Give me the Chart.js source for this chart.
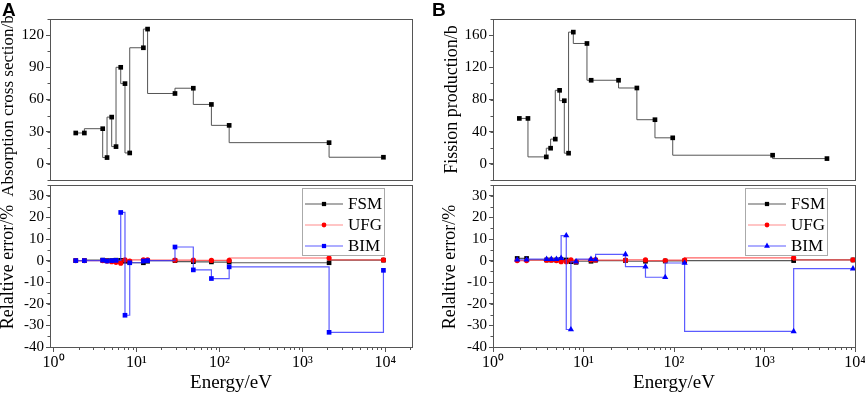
<!DOCTYPE html>
<html>
<head>
<meta charset="utf-8">
<script src="https://cdn.jsdelivr.net/npm/chart.js@4.4.0/dist/chart.umd.min.js"></script>
<style>
    body { margin: 0; background: #fff; width: 865px; height: 396px; position: relative; overflow: hidden; }
    canvas { position: absolute; }
    .tag { position: absolute; font: bold 19px "Liberation Sans", Arial, sans-serif; line-height: 19px; }
</style>
</head>
<body>
<canvas id="aTop" width="430" height="215" style="left:0;top:0"></canvas>
<canvas id="aErr" width="430" height="215" style="left:0;top:181px"></canvas>
<canvas id="bTop" width="432" height="215" style="left:433px;top:0"></canvas>
<canvas id="bErr" width="432" height="215" style="left:433px;top:181px"></canvas>
<div class="tag" style="left:2px;top:0px">A</div>
<div class="tag" style="left:432px;top:0px">B</div>
<script>
// energy grid shared by all four plots (eV)
const energy = [1.85, 2.35, 3.91, 4.41, 5.02, 5.66, 6.45, 7.26, 8.28, 12.1, 13.6, 29.1, 48.4, 80, 131, 2100, 9500];

// panel A
const absorption = [28.8, 28.8, 32.8, 5.9, 43.6, 16.1, 90, 74.8, 10.2, 108.2, 125.6, 65.6, 70.5, 55.4, 35.9, 19.8, 6.2];
const errFsmA = [0, 0, 0.2, 0, 0, 0.2, 0.1, -0.3, -0.8, -1.0, -0.3, 0, -0.5, -0.6, -0.7, -1.0, 0.2];
const errUfgA = [0, 0, 0, -0.2, -0.5, -0.8, -1.2, 0.3, -0.2, 0.3, 0.4, 0.2, 0.2, 0.1, 0.1, 1.2, 0.3];
const errBimA = [0, 0, 0.2, -0.2, 0, 0.1, 22.3, -25.3, -1.0, -0.2, 0, 6.3, -4.3, -8.3, -2.9, -33.2, -4.5];

// panel B
const fission = [56.5, 56.5, 8.7, 19.5, 30.8, 91.4, 78.5, 13.3, 163.7, 149.6, 103.9, 103.9, 94.3, 54.9, 32.4, 10.8, 6.6];
const errFsmB = [1.0, 1.0, 0.3, 0.3, 0.3, 0.6, 0.3, -0.5, -0.8, -0.3, 0.2, 0, -0.3, -0.2, -0.1, 0, 0.3];
const errUfgB = [0, 0, 0.2, 0.2, 0, -0.5, -0.5, 0.3, -0.5, 0.3, 0.3, 0.2, 0.3, 0, 0.2, 1.3, 0.3];
const errBimB = [0.4, 0.4, 0.7, 0.7, 0.7, 1.1, 11.6, -31.9, -0.5, 0.7, 0.5, 2.9, -2.8, -7.7, -1.1, -32.8, -3.7];

// tick labels
const decades = [1, 10, 100, 1000, 10000];
const absTicks = [0, 30, 60, 90, 120];
const fisTicks = [0, 40, 80, 120, 160];
const errTicks = [-40, -30, -20, -10, 0, 10, 20, 30];
const sup = ['\u2070', '\u00b9', '\u00b2', '\u00b3', '\u2074'];

const serif = '"Liberation Serif", "Times New Roman", serif';
const frameColor = '#555';
Chart.defaults.font.family = serif;
Chart.defaults.color = '#000';

const pts = ys => energy.map((e, i) => ({ x: e, y: ys[i] }));

// box around every plot area
const frame = {
    id: 'frame',
    afterDatasetsDraw(chart) {
        const { ctx, chartArea: a } = chart;
        ctx.save();
        ctx.strokeStyle = frameColor;
        ctx.lineWidth = 1;
        ctx.strokeRect(Math.round(a.left) + 0.5, Math.round(a.top) + 0.5,
            Math.round(a.right - a.left), Math.round(a.bottom - a.top));
        ctx.restore();
    }
};

// small ticks between the labelled ones
const minorTicks = {
    id: 'minorTicks',
    afterDraw(chart, args, opts) {
        const { ctx, chartArea: a, scales } = chart;
        ctx.save();
        ctx.strokeStyle = frameColor;
        ctx.lineWidth = 1;
        ctx.beginPath();
        if (opts.yStep) {
            const ys = scales.y;
            for (let v = Math.ceil(ys.min / opts.yStep) * opts.yStep; v <= ys.max; v += opts.yStep) {
                const p = Math.round(ys.getPixelForValue(v)) + 0.5;
                ctx.moveTo(a.left, p);
                ctx.lineTo(a.left - 2.5, p);
            }
        }
        if (opts.logX) {
            const xs = scales.x;
            for (let d = -1; d <= 4; d++) {
                for (let k = 2; k <= 9; k++) {
                    const v = k * Math.pow(10, d);
                    if (v < xs.min || v > xs.max) continue;
                    const p = Math.round(xs.getPixelForValue(v)) + 0.5;
                    ctx.moveTo(p, a.bottom);
                    ctx.lineTo(p, a.bottom + 3);
                }
            }
        }
        ctx.stroke();
        ctx.restore();
    }
};

// rotated y-axis title, baseline at opts.x, centred on the plot (plus shift)
const sideTitle = {
    id: 'sideTitle',
    afterDraw(chart, args, opts) {
        if (!opts.text) return;
        const { ctx, chartArea: a } = chart;
        ctx.save();
        ctx.translate(opts.x, (a.top + a.bottom) / 2 + (opts.shift || 0));
        ctx.rotate(-Math.PI / 2);
        ctx.font = opts.size + 'px ' + serif;
        ctx.fillStyle = '#000';
        ctx.textAlign = 'center';
        ctx.textBaseline = 'alphabetic';
        ctx.fillText(opts.text, 0, 0);
        ctx.restore();
    }
};

const marker = (ctx, style, x, y, r, color) => {
    ctx.fillStyle = color;
    ctx.beginPath();
    if (style === 'circle') {
        ctx.arc(x, y, r, 0, Math.PI * 2);
    } else if (style === 'triangle') {
        ctx.moveTo(x, y - r);
        ctx.lineTo(x + 0.866 * r, y + 0.5 * r);
        ctx.lineTo(x - 0.866 * r, y + 0.5 * r);
        ctx.closePath();
    } else {
        const s = r * Math.SQRT1_2;
        ctx.rect(x - s, y - s, 2 * s, 2 * s);
    }
    ctx.fill();
};

// legend with a border, line + marker per entry
const legendBox = {
    id: 'legendBox',
    afterDraw(chart, args, opts) {
        if (!opts.items) return;
        const { ctx, chartArea: a } = chart;
        const left = Math.round(a.right) - 110, top = Math.round(a.top) + 3;
        ctx.save();
        ctx.strokeStyle = '#aaa';
        ctx.lineWidth = 1;
        ctx.strokeRect(left + 0.5, top + 0.5, 82, 67);
        ctx.font = '17px ' + serif;
        ctx.textBaseline = 'middle';
        opts.items.forEach((it, i) => {
            const y = top + 16 + i * 21;
            ctx.strokeStyle = it.line;
            ctx.lineWidth = 1.2;
            ctx.beginPath();
            ctx.moveTo(left + 3, y);
            ctx.lineTo(left + 41, y);
            ctx.stroke();
            marker(ctx, it.style, left + 22, y, it.radius, it.color);
            ctx.fillStyle = '#000';
            ctx.fillText(it.label, left + 46, y + 1);
        });
        ctx.restore();
    }
};

Chart.register(frame, minorTicks, sideTitle, legendBox);

const yAxis = (min, max, majors, width) => ({
    min, max,
    afterFit: s => { s.width = width; s.paddingTop = 0; s.paddingBottom = 0; },
    afterBuildTicks: s => { s.ticks = majors.map(v => ({ value: v })); },
    border: { display: false },
    grid: { drawOnChartArea: false, tickLength: 4, tickColor: frameColor },
    ticks: { font: { size: 15 }, padding: 2, autoSkip: false }
});

const xAxis = (min, max) => ({
    type: 'logarithmic', min, max,
    afterFit: s => { s.height = 49; s.paddingLeft = 0; s.paddingRight = 0; },
    afterBuildTicks: s => { s.ticks = decades.map(v => ({ value: v })); },
    border: { display: false },
    grid: { drawOnChartArea: false, tickLength: 5, tickColor: frameColor },
    ticks: {
        font: { size: 16 }, padding: 1, autoSkip: false, maxRotation: 0,
        callback: v => '10' + sup[Math.round(Math.log10(v))]
    },
    title: { display: true, text: 'Energy/eV', font: { size: 19, lineHeight: 1.2 }, padding: { top: 0, bottom: 2 } }
});

const baseOptions = (scales, padding, plugins) => ({
    responsive: false,
    animation: false,
    events: [],
    layout: { padding },
    scales,
    plugins: Object.assign({ legend: { display: false }, tooltip: { enabled: false } }, plugins)
});

const topSet = values => ({
    data: pts(values),
    stepped: 'after',
    borderColor: '#555',
    borderWidth: 1,
    pointStyle: 'rect',
    pointRadius: 3.3,
    pointBorderWidth: 0,
    pointBackgroundColor: '#000'
});

const errSet = (values, line, color, style, radius, stepped) => ({
    data: pts(values),
    stepped,
    borderColor: line,
    borderWidth: 1.2,
    pointStyle: style,
    pointRadius: radius,
    pointBorderWidth: 0,
    pointBackgroundColor: color
});

const lineFsm = 'rgba(60,60,60,0.85)';
const lineUfg = 'rgba(255,70,70,0.85)';
const lineBim = 'rgba(50,50,255,0.8)';
const legendItems = bimStyle => [
    { label: 'FSM', line: lineFsm, color: '#000', style: 'rect', radius: 3 },
    { label: 'UFG', line: 'rgba(255,110,110,0.8)', color: '#f00', style: 'circle', radius: 2.4 },
    { label: 'BIM', line: lineBim, color: '#00f', style: bimStyle, radius: bimStyle === 'triangle' ? 3.4 : 3 }
];

// A: absorption cross section
new Chart(document.getElementById('aTop'), {
    type: 'line',
    data: { datasets: [topSet(absorption)] },
    options: baseOptions({
        x: { type: 'logarithmic', min: 0.905, max: 21000, display: false },
        y: yAxis(-15, 135, absTicks, 50)
    }, { top: 19, right: 18, bottom: 35, left: 0 }, {
        minorTicks: { yStep: 15 },
        sideTitle: { text: 'Absorption cross section/b', x: 13, shift: 6.5, size: 17 }
    })
});

// A: relative error
new Chart(document.getElementById('aErr'), {
    type: 'line',
    data: {
        datasets: [
            errSet(errBimA, lineBim, '#00f', 'rect', 3.3, 'before'),
            errSet(errUfgA, lineUfg, '#f00', 'circle', 2.6, 'after'),
            errSet(errFsmA, lineFsm, '#000', 'rect', 3.3, 'after')
        ]
    },
    options: baseOptions({
        x: xAxis(0.905, 21000),
        y: yAxis(-40, 35, errTicks, 50)
    }, { top: 1, right: 18, bottom: 0, left: 0 }, {
        minorTicks: { yStep: 5, logX: true },
        sideTitle: { text: 'Relaltive error/%', x: 13, shift: 1, size: 18 },
        legendBox: { items: legendItems('rect') }
    })
});

// B: fission production
new Chart(document.getElementById('bTop'), {
    type: 'line',
    data: { datasets: [topSet(fission)] },
    options: baseOptions({
        x: { type: 'logarithmic', min: 0.89, max: 20700, display: false },
        y: yAxis(-20, 180, fisTicks, 60)
    }, { top: 19, right: 10, bottom: 35, left: 0 }, {
        minorTicks: { yStep: 20 },
        sideTitle: { text: 'Fission production/b', x: 23.5, shift: 0, size: 18 }
    })
});

// B: relative error
new Chart(document.getElementById('bErr'), {
    type: 'line',
    data: {
        datasets: [
            errSet(errBimB, lineBim, '#00f', 'triangle', 3.6, 'after'),
            errSet(errUfgB, lineUfg, '#f00', 'circle', 2.6, 'after'),
            errSet(errFsmB, lineFsm, '#000', 'rect', 3.3, 'after')
        ]
    },
    options: baseOptions({
        x: xAxis(1, 10000),
        y: yAxis(-40, 35, errTicks, 60)
    }, { top: 1, right: 10, bottom: 0, left: 0 }, {
        minorTicks: { yStep: 5, logX: true },
        sideTitle: { text: 'Relaltive error/%', x: 22, shift: 1, size: 18 },
        legendBox: { items: legendItems('triangle') }
    })
});
</script>
</body>
</html>
